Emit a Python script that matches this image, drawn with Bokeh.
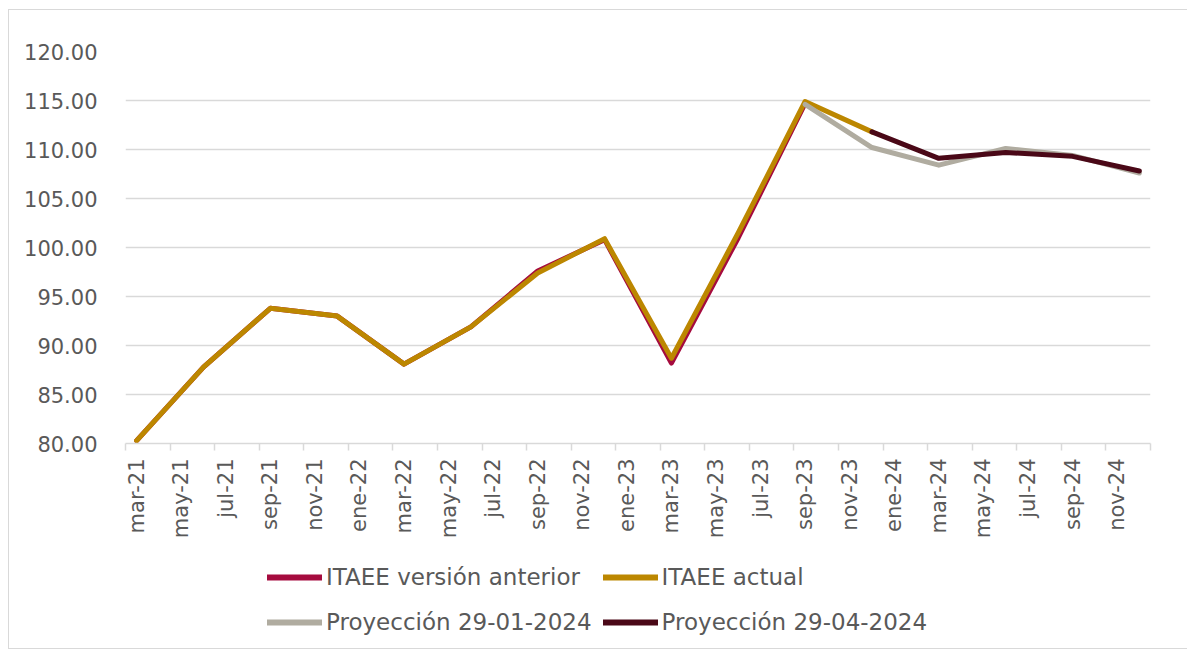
import math
from bokeh.plotting import figure
from bokeh.layouts import column
from bokeh.models import (Range1d, FixedTicker, NumeralTickFormatter, Legend, LegendItem)
from bokeh.embed import file_html
from bokeh.resources import INLINE

# ---- data ----
quarters = ["mar-21", "jun-21", "sep-21", "dic-21", "mar-22", "jun-22", "sep-22", "dic-22",
            "mar-23", "jun-23", "sep-23", "dic-23", "mar-24", "jun-24", "sep-24", "dic-24"]
nan = float("nan")
itaee_anterior = [80.3, 87.8, 93.8, 93.0, 88.1, 91.9, 97.6, 100.8, 88.2, 101.0, 114.7,
                  nan, nan, nan, nan, nan]
itaee_actual = [80.3, 87.8, 93.8, 93.0, 88.1, 91.9, 97.4, 100.9, 88.7, 101.5, 114.9,
                111.8, nan, nan, nan, nan]
proy_ene = [nan, nan, nan, nan, nan, nan, nan, nan, nan, nan, 114.6,
            110.2, 108.4, 110.1, 109.4, 107.6]
proy_abr = [nan, nan, nan, nan, nan, nan, nan, nan, nan, nan, nan,
            111.8, 109.1, 109.7, 109.3, 107.8]
tick_labels = ["mar-21", "may-21", "jul-21", "sep-21", "nov-21", "ene-22", "mar-22", "may-22",
               "jul-22", "sep-22", "nov-22", "ene-23", "mar-23", "may-23", "jul-23", "sep-23",
               "nov-23", "ene-24", "mar-24", "may-24", "jul-24", "sep-24", "nov-24"]
series_names = ["ITAEE versión anterior", "ITAEE actual",
                "Proyección 29-01-2024", "Proyección 29-04-2024"]
series_colors = ["#A50B3E", "#BC8700", "#B0ACA0", "#4A0817"]
y_ticks = [80, 85, 90, 95, 100, 105, 110, 115, 120]

# month index positions (mar-21 = 0), quarterly data every 3 months
xq = [3 * i for i in range(len(quarters))]
label_pos = [2 * i for i in range(len(tick_labels))]

FONT = "DejaVu Sans"
TXT = "#595959"
GRID = "#D9D9D9"

p = figure(frame_width=1025, frame_height=392, output_backend="svg", toolbar_location=None,
           x_range=Range1d(-0.5, 45.5), y_range=Range1d(80, 120),
           min_border_left=116, min_border_top=41, min_border_right=40, min_border_bottom=105)
p.outline_line_color = None
p.background_fill_color = "white"
p.border_fill_color = "white"

# Axes
p.xaxis.ticker = FixedTicker(ticks=label_pos, minor_ticks=[m - 0.5 for m in label_pos] + [45.5])
p.xaxis.major_label_overrides = {pos: lab for pos, lab in zip(label_pos, tick_labels)}
p.xaxis.major_label_orientation = math.pi / 2
p.xaxis.major_tick_line_color = None
p.xaxis.major_tick_out = 0
p.xaxis.major_tick_in = 0
p.xaxis.minor_tick_line_color = GRID
p.xaxis.minor_tick_line_width = 1.5
p.xaxis.minor_tick_out = 7
p.xaxis.minor_tick_in = 0
p.xaxis.axis_line_color = GRID
p.xaxis.axis_line_width = 1.5
p.xaxis.major_label_text_font = FONT
p.xaxis.major_label_text_font_size = "21px"
p.xaxis.major_label_text_color = TXT
p.xaxis.major_label_standoff = 8

p.yaxis.ticker = FixedTicker(ticks=y_ticks)
p.yaxis.formatter = NumeralTickFormatter(format="0.00")
p.yaxis.axis_line_color = None
p.yaxis.major_tick_line_color = None
p.yaxis.minor_tick_line_color = None
p.yaxis.major_label_text_font = FONT
p.yaxis.major_label_text_font_size = "21px"
p.yaxis.major_label_text_color = TXT
p.yaxis.major_label_standoff = 22

p.xgrid.grid_line_color = None
p.ygrid.ticker = FixedTicker(ticks=y_ticks)
p.ygrid.grid_line_color = GRID
p.ygrid.grid_line_width = 1.5

kw = dict(line_width=5, line_join="round", line_cap="round")
for ys, col in zip([itaee_anterior, itaee_actual, proy_ene, proy_abr], series_colors):
    p.line(xq, ys, line_color=col, **kw)

# ---- legend panel (separate figure below the chart) ----
p2 = figure(width=1181, height=100, output_backend="svg", toolbar_location=None,
            x_range=Range1d(0, 1), y_range=Range1d(0, 1),
            x_axis_type=None, y_axis_type=None,
            min_border_left=0, min_border_right=0, min_border_top=0, min_border_bottom=0)
p2.outline_line_color = None
p2.xgrid.visible = False
p2.ygrid.visible = False
p2.background_fill_color = "white"
p2.border_fill_color = "white"

handles = {}
for name, col in zip(series_names, series_colors):
    # legend handles: lines placed outside the visible range of this panel
    handles[name] = p2.line([-10, -9], [-10, -9], line_color=col, line_width=6, line_cap="round")

# column-major filling: col 1 = anterior / 29-01, col 2 = actual / 29-04
order = [series_names[0], series_names[2], series_names[1], series_names[3]]
items = [LegendItem(label=n, renderers=[handles[n]]) for n in order]

legend = Legend(items=items, ncols=2, location=(142, 9))
legend.label_text_font = FONT
legend.label_text_font_size = "23px"
legend.label_text_color = TXT
legend.glyph_width = 55
legend.glyph_height = 34
legend.label_standoff = 4
legend.spacing = 11
legend.padding = 4
legend.margin = 0
legend.border_line_color = None
legend.background_fill_alpha = 0
p2.add_layout(legend, "center")

layout = column(p, p2, spacing=0,
                styles={"border": "1.5px solid #D9D9D9", "margin-left": "8px", "margin-top": "9px"})

open("out.html", "w").write(file_html(layout, INLINE))
